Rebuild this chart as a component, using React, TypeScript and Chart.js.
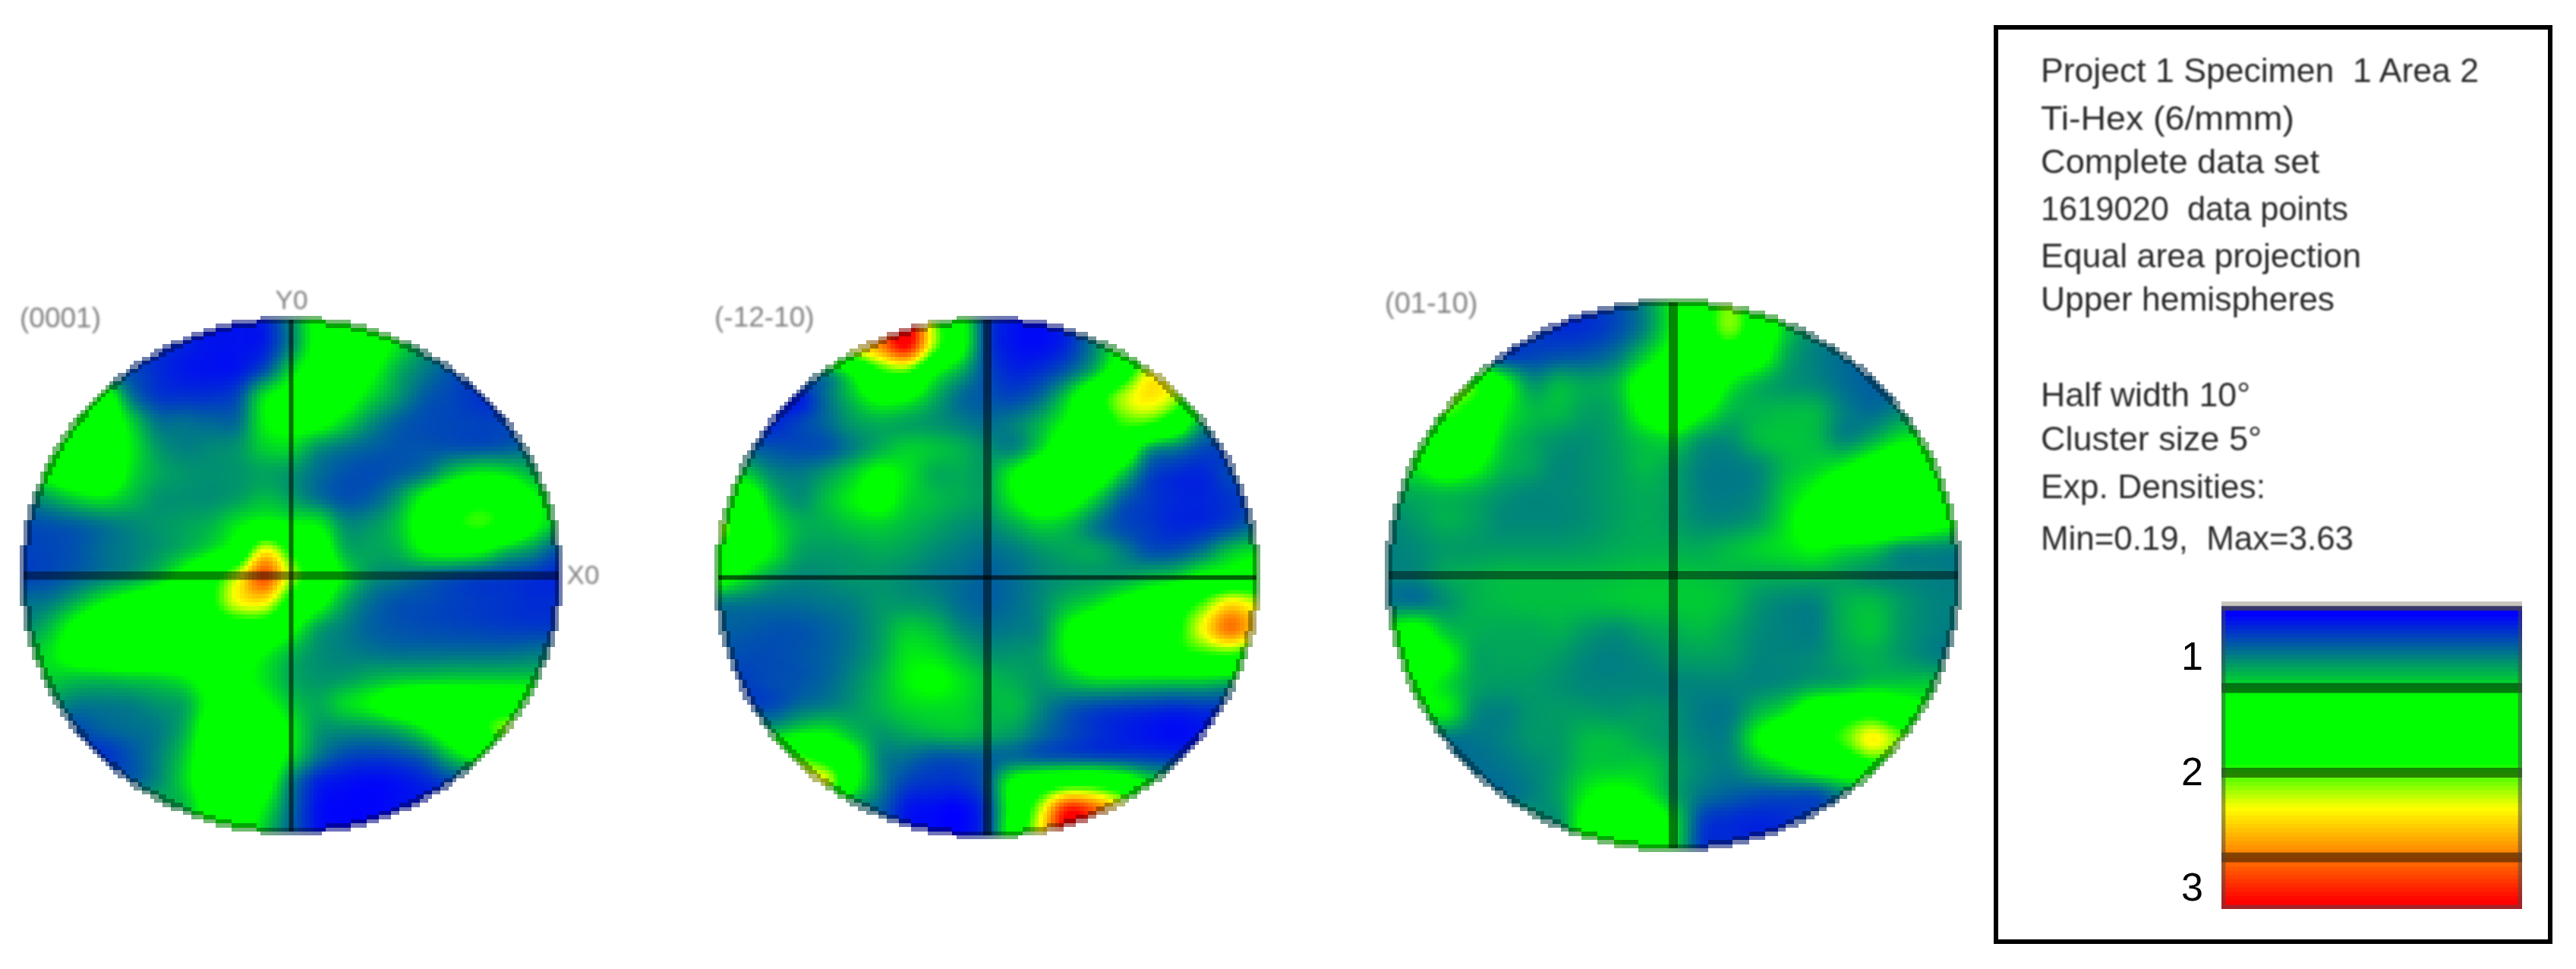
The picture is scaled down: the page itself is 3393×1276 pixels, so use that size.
import React, { useEffect, useRef } from "react";
import { Chart, registerables } from "chart.js";

Chart.register(...registerables);

// Grid axis of every density table: -1 … 1 in steps of 0.1 (columns: x, rows: y, top row first)
const gridAxis = [-1, -0.9, -0.8, -0.7, -0.6, -0.5, -0.4, -0.3, -0.2, -0.1, 0, 0.1, 0.2, 0.3, 0.4, 0.5, 0.6, 0.7, 0.8, 0.9, 1];

const density0001 = [
  [.3, .3, .3, .3, .3, .3, .25, .2, .2, .25, .65, 1.2, 1.4, 1.3, 1, .7, .6, .6, .6, .6, .6],
  [.3, .3, .3, .3, .3, .3, .25, .2, .2, .25, .65, 1.2, 1.4, 1.3, 1, .7, .6, .6, .6, .6, .6],
  [.4, .4, .4, .4, .4, .3, .22, .2, .22, .45, .95, 1.3, 1.4, 1.15, .8, .6, .45, .4, .4, .4, .4],
  [1.2, 1.2, 1.2, 1.3, .6, .35, .32, .32, .42, 1, 1.25, 1.4, 1.25, .95, .7, .48, .4, .33, .3, .3, .3],
  [1.5, 1.5, 1.9, 1.5, .95, .58, .55, .52, .55, 1.05, 1.2, 1.2, .95, .68, .5, .42, .4, .38, .38, .38, .38],
  [1.2, 1.3, 1.5, 1.4, 1.05, .72, .62, .65, .7, .92, .95, .7, .58, .5, .45, .45, .45, .45, .48, .55, .55],
  [.95, 1.2, 1.45, 1.5, 1, .78, .7, .68, .7, .75, .7, .55, .45, .42, .48, .6, .88, 1.05, 1, .82, .7],
  [.6, .75, .92, 1, .85, .7, .68, .68, .74, .85, .75, .58, .45, .5, .72, 1.15, 1.5, 1.7, 1.6, 1.15, .9],
  [.42, .45, .5, .58, .65, .7, .75, .82, 1.02, 1.2, 1.1, 1.05, .68, .7, .88, 1.3, 1.75, 1.95, 1.7, 1.2, .85],
  [.38, .4, .45, .55, .62, .7, .82, 1, 1.35, 2.4, 1.8, 1.4, .82, .76, .82, 1.1, 1.2, 1.15, .88, .7, .45],
  [.38, .42, .5, .6, .7, .88, 1.2, 1.65, 2.3, 3.15, 2.2, 1.6, 1, .7, .62, .55, .48, .42, .38, .33, .28],
  [.55, .6, .8, 1.05, 1.25, 1.4, 1.45, 1.8, 2.4, 2.5, 1.7, 1.25, .78, .55, .45, .42, .38, .35, .33, .3, .3],
  [.65, .85, 1.2, 1.5, 1.6, 1.65, 1.65, 1.6, 1.65, 1.6, 1.2, .78, .62, .5, .45, .42, .4, .38, .36, .35, .35],
  [.9, 1, 1.3, 1.5, 1.55, 1.55, 1.5, 1.45, 1.35, 1.1, .85, .68, .62, .58, .55, .55, .55, .55, .55, .58, .6],
  [.95, .92, .88, .88, .92, .95, 1.05, 1.25, 1.2, 1, .78, .7, .72, .8, .86, .88, .9, .9, .9, .9, .9],
  [.7, .7, .6, .6, .62, .7, .78, 1.15, 1.3, 1.15, .9, .78, .95, 1.1, 1.35, 1.5, 1.5, 1.5, 1.5, 1.5, 1.5],
  [.45, .42, .42, .5, .55, .6, .8, 1.3, 1.45, 1.4, 1.05, .72, .68, .7, .8, 1.05, 1.4, 1.75, 2.1, 2.1, 2.1],
  [.35, .35, .35, .33, .45, .62, .9, 1.4, 1.55, 1.4, 1, .6, .42, .38, .42, .55, .9, 1.2, 1.2, 1.2, 1.2],
  [.45, .45, .45, .45, .48, .65, .95, 1.4, 1.5, 1.3, .65, .28, .2, .17, .2, .28, .4, .4, .4, .4, .4],
  [.8, .8, .8, .8, .8, .8, .85, 1.25, 1.35, 1.05, .55, .2, .15, .15, .18, .2, .2, .2, .2, .2, .2],
  [.8, .8, .8, .8, .8, .8, .85, 1.25, 1.35, .9, .5, .2, .15, .15, .18, .2, .2, .2, .2, .2, .2],
];

const density1210 = [
  [2.5, 2.5, 2.5, 2.5, 2.5, 2.5, 2.9, 3.6, 2.2, 1.25, .4, .2, .18, .3, .65, 1.1, 1.2, 1.2, 1.2, 1.2, 1.2],
  [2.5, 2.5, 2.5, 2.5, 2.5, 2.5, 2.9, 3.5, 2.2, 1.25, .4, .2, .18, .3, .65, 1.1, 1.2, 1.2, 1.2, 1.2, 1.2],
  [.8, .8, .8, .8, .75, 1.2, 1.85, 2, 1.2, .8, .42, .27, .32, .5, .85, 1.5, 2.3, 2.2, 2.2, 2.2, 2.2],
  [.3, .3, .3, .25, .55, .88, 1.2, 1.15, .82, .55, .45, .4, .55, .95, 1.6, 2.2, 2.5, 2.2, 1.2, 1.2, 1.2],
  [.3, .3, .28, .38, .52, .72, .8, .76, .7, .62, .55, .62, .82, 1.15, 1.5, 1.95, 1.95, 1.5, .75, .7, .7],
  [.5, .5, .45, .42, .45, .62, .8, .92, .88, .8, .68, .65, .98, 1.45, 1.6, 1.55, .78, .6, .42, .38, .38],
  [.92, .92, .66, .6, .72, .92, 1.15, 1, .8, .78, .75, 1.1, 1.5, 1.6, 1.4, .9, .42, .3, .28, .4, .45],
  [1.3, 1.4, .88, .68, .85, 1.05, 1.2, .95, .85, .78, .75, 1.05, 1.35, 1.25, .9, .5, .35, .28, .27, .33, .4],
  [2.2, 1.5, 1.05, .82, .8, .88, .92, .84, .76, .68, .65, .78, .92, .85, .6, .42, .35, .28, .3, .4, .55],
  [1.7, 1.35, 1.05, .76, .72, .74, .78, .74, .66, .6, .55, .6, .7, .76, .76, .62, .45, .45, .6, .88, 1],
  [1.25, .98, .75, .65, .66, .7, .7, .66, .6, .55, .5, .55, .64, .7, .72, .75, .85, .95, 1.2, 1.3, 1.4],
  [.6, .58, .55, .55, .58, .62, .7, .7, .66, .55, .5, .55, .66, .84, .98, 1.2, 1.4, 1.6, 2, 2.5, 2.3],
  [.5, .48, .45, .45, .5, .58, .72, .9, .84, .66, .58, .6, .68, 1.1, 1.45, 1.6, 1.65, 1.8, 2.4, 3, 2.6],
  [.45, .42, .42, .45, .5, .6, .75, 1, 1, .84, .7, .7, .75, 1.1, 1.5, 1.65, 1.7, 1.75, 1.85, 1.9, 1.7],
  [.4, .38, .42, .45, .52, .65, .82, 1.05, 1.15, 1, .85, .78, .72, .84, .95, .95, .93, .92, .92, .85, .78],
  [.4, .4, .42, .55, .62, .7, .82, .95, .98, .95, .84, .84, .65, .5, .42, .38, .35, .32, .35, .35, .35],
  [.95, .95, .85, 1, 1.05, .85, .72, .78, .84, .86, .78, .72, .55, .42, .32, .25, .2, .17, .2, .2, .2],
  [1.9, 1.9, 1.9, 2, 1.7, 1.2, .66, .55, .45, .45, .5, .55, .5, .48, .45, .42, .38, .35, .35, .35, .35],
  [2.2, 2.2, 2.2, 2.2, 2.3, 1.2, .65, .38, .32, .32, .5, 1.2, 1.55, 1.75, 1.75, 1.5, 1.1, 1, 1, 1, 1],
  [.6, .6, .6, .6, .6, .6, .5, .22, .17, .15, .4, 1.3, 2.3, 3.4, 3.1, 2.5, 2, 2, 2, 2, 2],
  [.6, .6, .6, .6, .6, .6, .5, .22, .17, .15, .4, 1.4, 2.5, 3.6, 3.2, 2.5, 2, 2, 2, 2, 2],
];

const density0110 = [
  [.35, .35, .35, .35, .35, .35, .3, .32, .42, .65, 1.1, 1.6, 2.1, 1.5, .9, .65, .65, .65, .65, .65, .65],
  [.35, .35, .35, .35, .35, .35, .3, .32, .42, .65, 1.1, 1.6, 2.1, 1.5, .9, .65, .65, .65, .65, .65, .65],
  [.4, .4, .4, .4, .38, .4, .45, .48, .6, .92, 1.25, 1.5, 1.5, 1.25, .78, .62, .55, .5, .5, .5, .5],
  [1.9, 1.9, 1.9, 1.9, 1.2, .72, .82, .76, .84, 1.3, 1.55, 1.55, 1.05, .82, .7, .65, .55, .5, .5, .5, .5],
  [1.9, 1.9, 2, 1.7, 1.1, .86, .84, .74, .8, 1.2, 1.45, 1.15, .84, .82, .84, .82, .62, .55, .65, .65, .65],
  [1.2, 1.2, 1.4, 1.45, .95, .78, .7, .68, .76, .9, .95, .72, .68, .84, .88, .84, .65, .78, 1, 1.05, 1.05],
  [.95, 1.05, 1.3, 1.15, .85, .76, .65, .68, .74, .84, .76, .62, .6, .66, .84, .92, 1.05, 1.3, 1.5, 1.3, 1.2],
  [.78, .8, .85, .8, .7, .65, .65, .68, .74, .78, .74, .62, .6, .66, .92, 1.15, 1.55, 1.7, 1.75, 1.7, 1.5],
  [.65, .72, .8, .75, .66, .65, .65, .68, .74, .78, .74, .66, .66, .74, 1, 1.35, 1.6, 1.65, 1.6, 1.35, 1.15],
  [.62, .66, .72, .72, .72, .72, .72, .74, .78, .8, .8, .78, .84, .92, 1, 1.1, 1, .92, .72, .68, .64],
  [.62, .64, .76, .8, .84, .84, .84, .84, .86, .88, .88, .86, .84, .8, .8, .8, .75, .68, .64, .62, .6],
  [.6, .58, .68, .8, .84, .86, .86, .86, .88, .9, .9, .9, .84, .7, .64, .64, .8, .84, .72, .64, .62],
  [1.1, 1.2, .88, .8, .78, .78, .8, .72, .68, .76, .8, .84, .76, .66, .62, .62, .8, .88, .72, .64, .6],
  [1.35, 1.35, 1.15, .78, .76, .76, .72, .64, .62, .66, .72, .74, .72, .64, .64, .66, .76, .8, .72, .64, .6],
  [1.2, 1.2, .98, .76, .72, .72, .68, .64, .64, .64, .64, .64, .64, .64, .68, .76, .8, .9, .9, .9, .9],
  [1, 1, 1.05, .68, .62, .7, .72, .72, .7, .72, .68, .6, .6, .82, 1.02, 1.4, 1.6, 1.7, 1.4, 1.2, 1.2],
  [.6, .6, .58, .58, .62, .7, .72, .84, .84, .76, .7, .62, .65, 1.1, 1.5, 1.7, 2, 2.45, 2.1, 2, 2],
  [.55, .55, .55, .55, .58, .64, .72, .88, .9, .9, .76, .65, .62, .82, 1.02, 1.25, 1.4, 1.7, 1.6, 1.6, 1.6],
  [.55, .55, .55, .55, .55, .62, .75, 1.05, 1.2, 1.05, .78, .58, .5, .45, .45, .45, .65, .65, .65, .65, .65],
  [.7, .7, .7, .7, .7, .7, .7, 1.25, 1.6, 1.4, 1, .4, .3, .27, .3, .4, .4, .4, .4, .4, .4],
  [.7, .7, .7, .7, .7, .7, .7, 1.25, 2, 1.4, 1, .35, .3, .27, .3, .4, .4, .4, .4, .4, .4],
];

const crossLine = [-1, 1];

const figureLabels = ["(0001)", "(-12-10)", "(01-10)"];
const axisLabels = ["Y0", "X0"];

const infoLines = [
  "Project 1 Specimen  1 Area 2",
  "Ti-Hex (6/mmm)",
  "Complete data set",
  "1619020  data points",
  "Equal area projection",
  "Upper hemispheres",
  "Half width 10°",
  "Cluster size 5°",
  "Exp. Densities:",
  "Min=0.19,  Max=3.63",
];
const infoLineCenters = [92, 155, 212, 274, 336, 393, 519, 577, 640, 708];
const infoLineWidths = [577, 334, 367, 405, 422, 387, 276, 291, 296, 412];

const legendTicks = [1, 2, 3];
const legendContours = [1, 2, 3];
const legendLevels = [
  0.085, 0.15, 0.2, 0.25, 0.3, 0.35, 0.4, 0.45, 0.5, 0.55, 0.6, 0.65, 0.7, 0.75, 0.8, 0.85, 0.9, 0.95, 1, 1.05, 1.1,
  1.85, 1.9, 1.95, 2, 2.05, 2.1, 2.15, 2.2, 2.25, 2.3, 2.35, 2.4, 2.45, 2.5, 2.55, 2.6, 2.65, 2.7, 2.75, 2.8, 2.85,
  2.9, 2.95, 3, 3.05, 3.1, 3.15, 3.2, 3.25, 3.3, 3.35, 3.4, 3.45, 3.5, 3.55, 3.61,
];

const colorStops: [number, number, number, number][] = [
  [0.13, 0, 0, 255],
  [0.62, 0, 128, 128],
  [1.1, 0, 255, 0],
  [1.87, 0, 255, 0],
  [2.41, 255, 255, 0],
  [3.51, 255, 0, 0],
];

function densityColor(v: number): [number, number, number] {
  if (v <= colorStops[0][0]) return [colorStops[0][1], colorStops[0][2], colorStops[0][3]];
  for (let i = 1; i < colorStops.length; i++) {
    const a = colorStops[i - 1];
    const b = colorStops[i];
    if (v <= b[0]) {
      const t = (v - a[0]) / (b[0] - a[0]);
      return [a[1] + t * (b[1] - a[1]), a[2] + t * (b[2] - a[2]), a[3] + t * (b[3] - a[3])];
    }
  }
  return [255, 0, 0];
}

function cubic(p0: number, p1: number, p2: number, p3: number, t: number) {
  return 0.5 * (2 * p1 + (p2 - p0) * t + (2 * p0 - 5 * p1 + 4 * p2 - p3) * t * t + (3 * p1 - p0 - 3 * p2 + p3) * t * t * t);
}

// Shades the disc between the cells of dataset 0, placed through the chart's own scales.
// The reference is a low-resolution raster enlarged about 5.4 times, so the shading keeps that block size.
const SHADE_BLOCK = 5.4;
const RIM_BLOCKS = 2;
const densityField = {
  id: "densityField",
  beforeDatasetsDraw(chart: any) {
    const { ctx, scales } = chart;
    const cells = chart.data.datasets[0].data as { x: number; y: number; v: number }[];
    const n = gridAxis.length;
    const at = (r: number, c: number) =>
      cells[Math.max(0, Math.min(n - 1, r)) * n + Math.max(0, Math.min(n - 1, c))].v;
    const left = scales.x.getPixelForValue(-1);
    const right = scales.x.getPixelForValue(1);
    const top = scales.y.getPixelForValue(-1);
    const bottom = scales.y.getPixelForValue(1);
    const dw = Math.round((right - left) / SHADE_BLOCK);
    const dh = Math.round((bottom - top) / SHADE_BLOCK);
    const w = dw + 2 * RIM_BLOCKS;
    const h = dh + 2 * RIM_BLOCKS;
    const off = document.createElement("canvas");
    off.width = w;
    off.height = h;
    const octx = off.getContext("2d")!;
    const img = octx.createImageData(w, h);
    const step = 2 / Math.max(dw, dh);
    for (let j = 0; j < h; j++) {
      for (let i = 0; i < w; i++) {
        const u = ((i - RIM_BLOCKS + 0.5) / dw) * 2 - 1;
        const v = ((j - RIM_BLOCKS + 0.5) / dh) * 2 - 1;
        const d = Math.sqrt(u * u + v * v);
        if (d > 1 + step) continue;
        const gx = Math.max(0, Math.min(20, (u + 1) * 10));
        const gy = Math.max(0, Math.min(20, (v + 1) * 10));
        const c0 = Math.floor(gx);
        const r0 = Math.floor(gy);
        const tx = gx - c0;
        const ty = gy - r0;
        const rowVals = [-1, 0, 1, 2].map((dr) =>
          cubic(at(r0 + dr, c0 - 1), at(r0 + dr, c0), at(r0 + dr, c0 + 1), at(r0 + dr, c0 + 2), tx)
        );
        const val = cubic(rowVals[0], rowVals[1], rowVals[2], rowVals[3], ty);
        let [cr, cg, cb] = densityColor(val);
        if (d > 1) {
          // outer rim: grey, slightly tinted by the density under it
          cr = cr * 0.3 + 160 * 0.7;
          cg = cg * 0.3 + 160 * 0.7;
          cb = cb * 0.3 + 160 * 0.7;
        } else if (d > 1 - step) {
          // inner rim: darker
          cr *= 0.65;
          cg *= 0.65;
          cb *= 0.65;
        }
        const k = (j * w + i) * 4;
        img.data[k] = cr;
        img.data[k + 1] = cg;
        img.data[k + 2] = cb;
        img.data[k + 3] = 255;
      }
    }
    octx.putImageData(img, 0, 0);
    const bw = (right - left) / dw;
    const bh = (bottom - top) / dh;
    ctx.save();
    ctx.imageSmoothingEnabled = false;
    ctx.drawImage(off, left - RIM_BLOCKS * bw, top - RIM_BLOCKS * bh, w * bw, h * bh);
    ctx.restore();
  },
};

type FigureProps = {
  density: number[][];
  left: number;
  right: number;
  top: number;
  bottom: number;
  hWidth: number;
  vWidth: number;
  hAlpha: number;
  vAlpha: number;
};

const PAD = 16;

function PoleFigure({ density, left, right, top, bottom, hWidth, vWidth, hAlpha, vAlpha }: FigureProps) {
  const ref = useRef<HTMLCanvasElement>(null);
  useEffect(() => {
    const cells = density.flatMap((row, r) => row.map((v, c) => ({ x: gridAxis[c], y: gridAxis[r], v })));
    const chart = new Chart(ref.current!, {
      type: "scatter",
      data: {
        datasets: [
          { data: cells, pointRadius: 0, showLine: false },
          {
            data: crossLine.map((x) => ({ x, y: 0 })),
            showLine: true,
            pointRadius: 0,
            borderColor: `rgba(0,0,0,${hAlpha})`,
            borderWidth: hWidth,
            borderCapStyle: "butt",
          },
          {
            data: crossLine.map((y) => ({ x: 0, y })),
            showLine: true,
            pointRadius: 0,
            borderColor: `rgba(0,0,0,${vAlpha})`,
            borderWidth: vWidth,
            borderCapStyle: "butt",
          },
        ],
      } as any,
      options: {
        animation: false,
        responsive: false,
        layout: { padding: PAD },
        plugins: { legend: { display: false }, tooltip: { enabled: false } },
        scales: {
          x: { type: "linear", min: -1, max: 1, display: false },
          y: { type: "linear", min: -1, max: 1, reverse: true, display: false },
        },
      },
      plugins: [densityField as any],
    });
    return () => chart.destroy();
  }, []);
  return (
    <canvas
      ref={ref}
      width={right - left + 2 * PAD}
      height={bottom - top + 2 * PAD}
      style={{ position: "absolute", left: left - PAD, top: top - PAD }}
    />
  );
}

const LEGEND_AXIS_WIDTH = 70;
const LEGEND_LEFT = 2926;

function DensityLegend() {
  const ref = useRef<HTMLCanvasElement>(null);
  useEffect(() => {
    const bar = (lo: number, hi: number, color: string, extra: object = {}) => ({
      data: [[lo, hi]],
      backgroundColor: color,
      borderWidth: 0,
      grouped: false,
      barPercentage: 1,
      categoryPercentage: 1,
      yAxisID: "y",
      ...extra,
    });
    const ramp = legendLevels.slice(0, -1).map((lo, i) => {
      const [r, g, b] = densityColor((lo + legendLevels[i + 1]) / 2);
      return bar(lo, legendLevels[i + 1] + 0.004, `rgb(${r},${g},${b})`);
    });
    const chart = new Chart(ref.current!, {
      type: "bar",
      data: {
        labels: ["Density"],
        // Chart.js paints the first dataset last, so the overlays come first.
        datasets: [
          bar(0.03, 3.61, "rgba(0,0,0,0)", {
            borderWidth: 5,
            borderColor: "rgba(70,70,80,0.5)",
            borderSkipped: false,
          }),
          ...legendContours.map((v) => bar(v - 0.055, v + 0.055, "rgba(0,0,0,0.48)")),
          bar(-0.022, 0.03, "#c6c6bf"),
          bar(0.03, 0.085, "#2a2a88"),
          bar(1.1, 1.85, "rgb(0,255,0)"),
          ...ramp,
        ],
      } as any,
      options: {
        animation: false,
        responsive: false,
        layout: { padding: 0 },
        plugins: { legend: { display: false }, tooltip: { enabled: false } },
        scales: {
          x: { display: false },
          y: { type: "linear", min: -0.022, max: 3.61, reverse: true, display: false },
          yLabels: {
            type: "linear",
            position: "left",
            min: 0.5,
            max: 3.164,
            reverse: true,
            border: { display: false },
            grid: { display: false, drawTicks: false },
            afterBuildTicks: (axis: any) => {
              axis.ticks = legendTicks.map((value) => ({ value }));
            },
            afterFit: (axis: any) => {
              axis.width = LEGEND_AXIS_WIDTH;
              axis.paddingTop = 0;
              axis.paddingBottom = 0;
            },
            ticks: {
              color: "#000",
              padding: 24,
              font: { family: "'Liberation Sans'", size: 52 },
              autoSkip: false,
              callback: (v: any) => String(v),
            },
          },
        },
      } as any,
    });
    return () => chart.destroy();
  }, []);
  return (
    <canvas
      ref={ref}
      width={LEGEND_AXIS_WIDTH + 396}
      height={405}
      style={{ position: "absolute", left: LEGEND_LEFT - LEGEND_AXIS_WIDTH, top: 792 }}
    />
  );
}

function Label({ text, left, cy, size, center }: { text: string; left: number; cy: number; size: number; center?: boolean }) {
  return (
    <div
      style={{
        position: "absolute",
        left,
        top: cy - size,
        height: size * 2,
        lineHeight: `${size * 2}px`,
        fontFamily: "'Liberation Sans'",
        fontSize: size,
        color: "#808080",
        whiteSpace: "pre",
        filter: "blur(1.4px)",
        transform: center ? "translateX(-50%)" : undefined,
      }}
    >
      {text}
    </div>
  );
}

export default function App() {
  return (
    <div style={{ position: "absolute", left: 0, top: 0, width: 3393, height: 1276, overflow: "hidden", background: "#fff" }}>
      <PoleFigure density={density0001} left={31} right={736} top={421} bottom={1095} hWidth={11} vWidth={6} hAlpha={0.45} vAlpha={0.55} />
      <PoleFigure density={density1210} left={946} right={1655} top={421} bottom={1100} hWidth={6} vWidth={11} hAlpha={0.62} vAlpha={0.5} />
      <PoleFigure density={density0110} left={1829} right={2579} top={398} bottom={1117} hWidth={11} vWidth={12} hAlpha={0.45} vAlpha={0.45} />

      <Label text={figureLabels[0]} left={26} cy={419} size={37} />
      <Label text={figureLabels[1]} left={941} cy={418} size={37} />
      <Label text={figureLabels[2]} left={1824} cy={399} size={38} />
      <Label text={axisLabels[0]} left={384} cy={395} size={35} center />
      <Label text={axisLabels[1]} left={768} cy={757} size={35} center />

      <div
        style={{
          position: "absolute",
          left: 2626,
          top: 33,
          width: 736 - 12,
          height: 1210 - 12,
          border: "6px solid #000",
        }}
      />
      <svg
        width={3393}
        height={1276}
        style={{ position: "absolute", left: 0, top: 0, filter: "blur(0.9px)" }}
      >
        {infoLines.map((line, i) => (
          <text
            key={line}
            x={2688}
            y={infoLineCenters[i] + 16}
            textLength={infoLineWidths[i]}
            lengthAdjust="spacingAndGlyphs"
            fontFamily="'Liberation Sans'"
            fontSize={45}
            fill="#2a2a2a"
            style={{ whiteSpace: "pre" }}
          >
            {line}
          </text>
        ))}
      </svg>
      <DensityLegend />
    </div>
  );
}
